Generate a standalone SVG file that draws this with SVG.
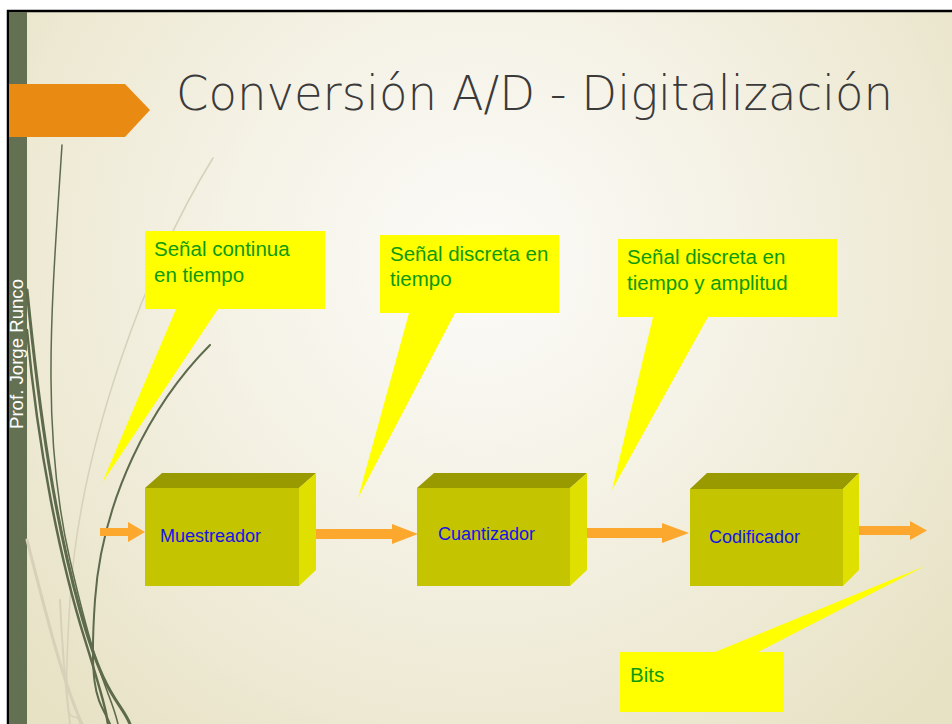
<svg xmlns="http://www.w3.org/2000/svg" width="952" height="724" viewBox="0 0 952 724">
  <defs>
    <radialGradient id="bg" cx="480" cy="260" r="620" gradientUnits="userSpaceOnUse">
      <stop offset="0" stop-color="#fbfbf8"/>
      <stop offset="0.45" stop-color="#f4f1e4"/>
      <stop offset="1" stop-color="#e7e2c4"/>
    </radialGradient>
  </defs>
  <style>
    .callout { fill: #ffff00; }
    .ctext { font-family: "Liberation Sans", Arial, sans-serif; font-size: 20.5px; fill: #0d9a0d; }
    .front { fill: #c4c400; }
    .top { fill: #999900; }
    .side { fill: #e0e000; }
    .btext { font-family: "Liberation Sans", Arial, sans-serif; font-size: 18px; fill: #1414e6; }
    .conn { fill: #fca82e; stroke: none; }
    .deco { fill: none; stroke: #5d6a4b; stroke-linecap: round; }
    .deco-light { fill: none; stroke: #d6d1b8; stroke-linecap: round; }
  </style>

  <!-- page -->
  <rect x="0" y="0" width="952" height="724" fill="#ffffff"/>
  <rect x="8" y="11" width="960" height="730" fill="url(#bg)"/>
  <path d="M8,724 L8,11 L952,11" fill="none" stroke="#000" stroke-width="2.5"/>
  <rect x="9" y="12" width="18" height="712" fill="#637052"/>
  <text transform="translate(23,429) rotate(-90)" font-family="Liberation Sans, Arial, sans-serif" font-size="18" fill="#ffffff" textLength="150" lengthAdjust="spacingAndGlyphs">Prof. Jorge Runco</text>

  <!-- decorative curves -->
  <g id="decoration">
    <path class="deco-light" d="M213,158 C150,260 80,440 70,600 S75,700 80,724" stroke-width="1.5"/>
    <path class="deco-light" d="M27,540 C45,610 62,680 82,724" stroke-width="3"/>
    <path class="deco-light" d="M60,600 C62,650 66,690 70,724" stroke-width="2"/>
    <path class="deco" d="M62,145 C52,300 40,430 70,560 S110,690 118,724" stroke-width="1.5"/>
    <path class="deco" d="M27,290 C40,420 55,520 80,610 S120,700 130,724" stroke-width="3"/>
    <path class="deco" d="M27,330 C38,450 60,560 85,640 S105,710 108,724" stroke-width="2.5"/>
    <path class="deco" d="M210,345 C150,405 102,500 95,600 S100,700 110,724" stroke-width="2"/>
  </g>

  <!-- title banner -->
  <path d="M9,84 L125,84 L150,110 L125,137 L9,137 Z" fill="#e98a13"/>
  <text x="176" y="110" font-family="DejaVu Sans, sans-serif" font-size="48" font-weight="200" fill="#3a3a3a" textLength="717" lengthAdjust="spacingAndGlyphs">Conversión A/D - Digitalización</text>

  <!-- connectors -->
  <g id="connectors">
    <path class="conn" d="M100,528 L128,528 L128,522 L145,532 L128,542 L128,536 L100,536 Z"/>
    <path class="conn" d="M311,529 L392,529 L392,524 L418,534 L392,544 L392,539 L311,539 Z"/>
    <path class="conn" d="M580,528 L662,528 L662,523 L689,533 L662,543 L662,538 L580,538 Z"/>
    <path class="conn" d="M857,526 L910,526 L910,521 L927,530.5 L910,540 L910,535 L857,535 Z"/>
  </g>

  <!-- blocks -->
  <g id="muestreador">
    <path class="top" d="M145,488 L162,473 L316,473 L299,488 Z"/>
    <path class="side" d="M299,488 L316,473 L316,570 L299,586 Z"/>
    <rect class="front" x="145" y="488" width="154" height="98"/>
    <text class="btext" x="160" y="542">Muestreador</text>
  </g>
  <g id="cuantizador">
    <path class="top" d="M417,488 L434,473 L587,473 L570,488 Z"/>
    <path class="side" d="M570,488 L587,473 L587,570 L570,586 Z"/>
    <rect class="front" x="417" y="488" width="153" height="98"/>
    <text class="btext" x="438" y="540">Cuantizador</text>
  </g>
  <g id="codificador">
    <path class="top" d="M690,489 L707,473 L859,473 L843,489 Z"/>
    <path class="side" d="M843,489 L859,473 L859,570 L843,586 Z"/>
    <rect class="front" x="690" y="489" width="153" height="97"/>
    <text class="btext" x="709" y="543">Codificador</text>
  </g>

  <!-- callouts -->
  <g id="callout-continua">
    <path class="callout" d="M145,231 L325,231 L325,309 L218,309 L102,483 L176,309 L145,309 Z"/>
    <text class="ctext" x="154" y="256">Señal continua</text>
    <text class="ctext" x="154" y="282">en tiempo</text>
  </g>
  <g id="callout-discreta">
    <path class="callout" d="M380,235 L559,235 L559,313 L455,313 L358,498 L409,313 L380,313 Z"/>
    <text class="ctext" x="390" y="261">Señal discreta en</text>
    <text class="ctext" x="390" y="286">tiempo</text>
  </g>
  <g id="callout-amplitud">
    <path class="callout" d="M618,239 L837,239 L837,317 L708,317 L612,490 L653,317 L618,317 Z"/>
    <text class="ctext" x="627" y="264">Señal discreta en</text>
    <text class="ctext" x="627" y="290">tiempo y amplitud</text>
  </g>
  <g id="callout-bits">
    <path class="callout" d="M620,652 L715,652 L925,566 L758,652 L784,652 L784,712 L620,712 Z"/>
    <text class="ctext" x="630" y="682" font-size="25">Bits</text>
  </g>
</svg>
